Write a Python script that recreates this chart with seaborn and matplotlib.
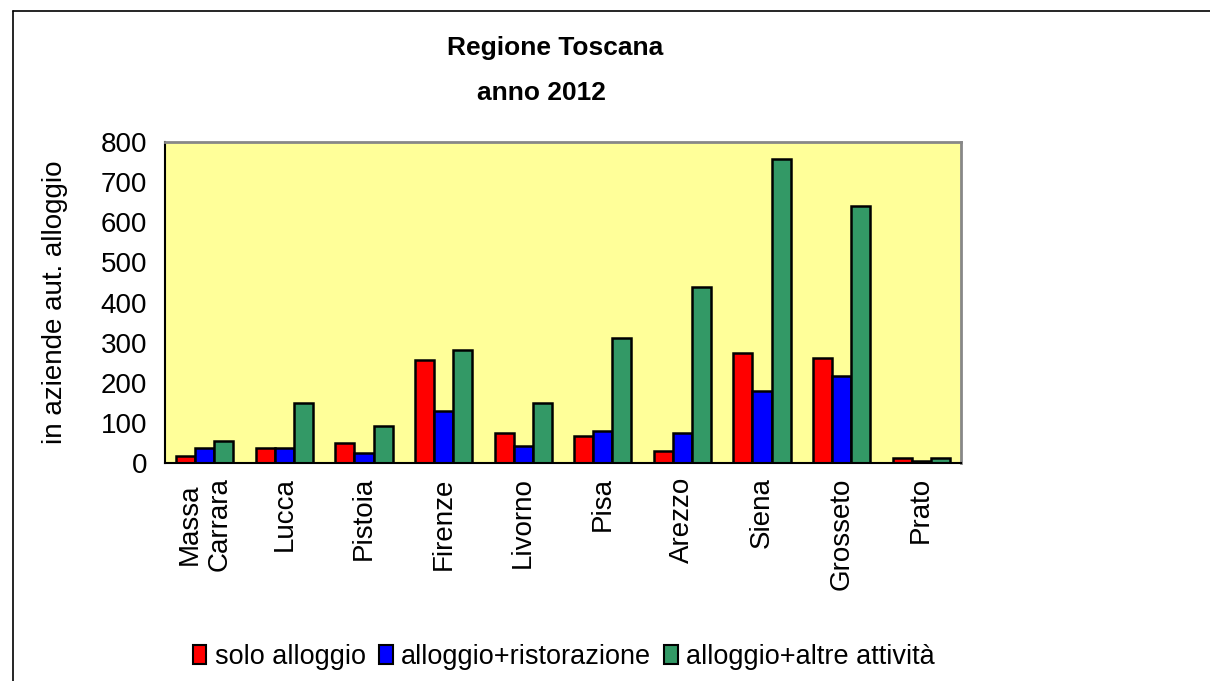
import pandas as pd
import numpy as np
import matplotlib.pyplot as plt
import seaborn as sns
from matplotlib.lines import Line2D

# data
province = ["Massa\nCarrara", "Lucca", "Pistoia", "Firenze", "Livorno",
            "Pisa", "Arezzo", "Siena", "Grosseto", "Prato"]
solo_alloggio = [18, 37, 50, 257, 75, 69, 31, 275, 263, 12]
alloggio_ristorazione = [37, 37, 25, 131, 44, 80, 76, 181, 218, 5]
alloggio_altre = [55, 149, 94, 282, 149, 312, 439, 757, 639, 12]
series_names = ["solo alloggio", "alloggio+ristorazione", "alloggio+altre attività"]
y_ticks = [0, 100, 200, 300, 400, 500, 600, 700, 800]

df = pd.DataFrame({
    "Provincia": province * 3,
    "Tipo": np.repeat(series_names, len(province)),
    "Aziende": solo_alloggio + alloggio_ristorazione + alloggio_altre,
})

sns.set_theme(style="white")
plt.rcParams["font.family"] = ["Liberation Sans", "DejaVu Sans"]
plt.rcParams["text.color"] = "black"
plt.rcParams["axes.labelcolor"] = "black"
plt.rcParams["xtick.color"] = "black"
plt.rcParams["ytick.color"] = "black"

fig = plt.figure(figsize=(12.1, 6.81), dpi=100)
ax = fig.add_axes([0.1364, 0.3197, 0.6578, 0.4722])
ax.set_facecolor("#FFFF99")

palette = {series_names[0]: "#FF0000", series_names[1]: "#0000FF", series_names[2]: "#339966"}
sns.barplot(data=df, x="Provincia", y="Aziende", hue="Tipo", palette=palette,
            width=0.72, edgecolor="black", linewidth=1.8, saturation=1,
            legend=False, ax=ax)

ax.set_xlim(-0.5, len(province) - 0.5)
ax.set_ylim(0, 800)
ax.set_yticks(y_ticks)
ax.set_yticklabels([str(v) for v in y_ticks], fontsize=20)
ax.tick_params(axis="y", direction="out", length=8, width=1.2, color="#333333", pad=5)

# ticks between the groups, labels at the centres
ax.set_xticks(np.arange(-0.5, len(province), 1.0))
ax.set_xticklabels([])
ax.set_xticks(np.arange(len(province)), minor=True)
ax.set_xticklabels(province, minor=True, rotation=90, fontsize=20,
                   va="top", ha="center", multialignment="center")
ax.tick_params(axis="x", which="major", direction="out", length=8, width=1.2, color="#333333")
ax.tick_params(axis="x", which="minor", length=0, pad=10)
ax.set_xlabel("")

ax.set_ylabel("in aziende aut. alloggio", fontsize=20)
ax.yaxis.set_label_coords(-0.122, 0.5)

for side in ["top", "right"]:
    ax.spines[side].set_color("#888888")
    ax.spines[side].set_linewidth(2)
for side in ["left", "bottom"]:
    ax.spines[side].set_color("black")
    ax.spines[side].set_linewidth(1.5)

fig.text(0.4587, 0.929, "Regione Toscana", ha="center", va="center",
         fontsize=19, fontweight="bold")
fig.text(0.4477, 0.864, "anno 2012", ha="center", va="center",
         fontsize=19, fontweight="bold")

handles = [plt.Rectangle((0, 0), 1, 1, facecolor=palette[n], edgecolor="black", linewidth=1.5)
           for n in series_names]
fig.legend(handles, series_names, loc="center", bbox_to_anchor=(0.466, 0.035),
           ncol=3, frameon=False, fontsize=19.5, handlelength=0.5, handleheight=0.7,
           handletextpad=0.3, columnspacing=0.5)

# outer frame (left and top edges visible)
fig.add_artist(Line2D([12.5 / 1210, 12.5 / 1210], [0, 1 - 10.5 / 681], color="black", lw=1.2))
fig.add_artist(Line2D([12.5 / 1210, 1], [1 - 10.5 / 681, 1 - 10.5 / 681], color="black", lw=1.2))

fig.savefig("out.png", dpi=100)
